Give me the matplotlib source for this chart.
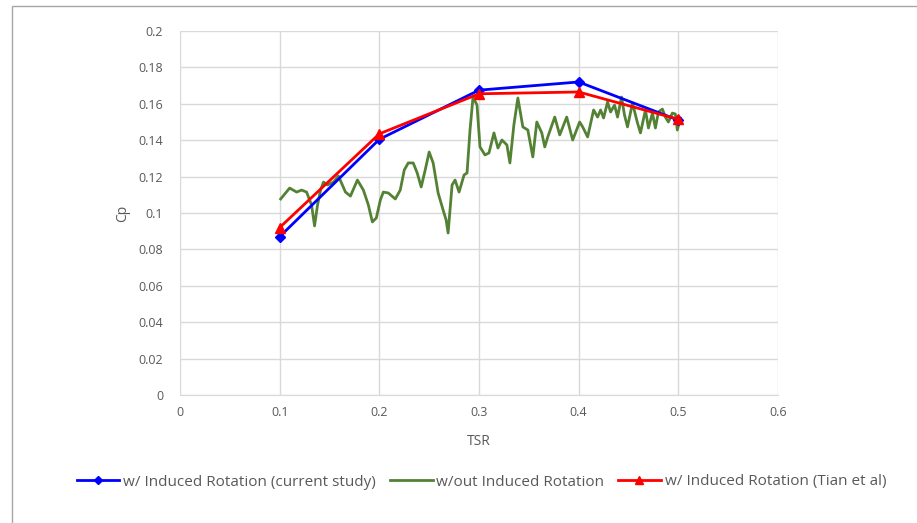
import matplotlib.pyplot as plt
from matplotlib.patches import Rectangle

# TSR points for the two "with induced rotation" series
tsr = [0.1, 0.2, 0.3, 0.4, 0.5]
cp_current = [0.087, 0.1405, 0.1675, 0.172, 0.151]
cp_tian = [0.092, 0.1435, 0.1655, 0.1665, 0.1515]

# w/out induced rotation
tsr_wo = [0.101, 0.110, 0.117, 0.122, 0.127, 0.132, 0.135, 0.138, 0.141, 0.144,
          0.148, 0.154, 0.159, 0.166, 0.171, 0.178, 0.184, 0.189, 0.193, 0.197,
          0.201, 0.204, 0.209, 0.216, 0.221, 0.225, 0.229, 0.234, 0.238, 0.242,
          0.246, 0.250, 0.254, 0.259, 0.264, 0.267, 0.269, 0.273, 0.276, 0.280,
          0.285, 0.288, 0.291, 0.294, 0.298, 0.301, 0.306, 0.310, 0.315, 0.319,
          0.323, 0.328, 0.331, 0.335, 0.339, 0.344, 0.349, 0.354, 0.358, 0.363,
          0.366, 0.369, 0.376, 0.381, 0.388, 0.394, 0.401, 0.404, 0.409, 0.415,
          0.419, 0.422, 0.425, 0.429, 0.432, 0.436, 0.439, 0.443, 0.446, 0.449,
          0.454, 0.459, 0.462, 0.467, 0.470, 0.474, 0.477, 0.480, 0.484, 0.487,
          0.490, 0.494, 0.497, 0.499, 0.502]
cp_wo = [0.1077, 0.1137, 0.1115, 0.1126, 0.1115, 0.1044, 0.0929, 0.1044, 0.1126, 0.1170,
         0.1154, 0.1170, 0.1203, 0.1115, 0.1093, 0.1181, 0.1126, 0.1044, 0.0951, 0.0973,
         0.1071, 0.1115, 0.1110, 0.1077, 0.1126, 0.1236, 0.1275, 0.1275, 0.1220, 0.1143,
         0.1236, 0.1335, 0.1275, 0.1110, 0.1016, 0.0962, 0.0890, 0.1154, 0.1181, 0.1115,
         0.1209, 0.1220, 0.1456, 0.1637, 0.1593, 0.1363, 0.1319, 0.1330, 0.1440, 0.1357,
         0.1401, 0.1374, 0.1275, 0.1484, 0.1632, 0.1473, 0.1456, 0.1308, 0.1500, 0.1440,
         0.1363, 0.1418, 0.1527, 0.1429, 0.1527, 0.1401, 0.1500, 0.1473, 0.1418, 0.1566,
         0.1527, 0.1566, 0.1522, 0.1610, 0.1555, 0.1593, 0.1527, 0.1637, 0.1538, 0.1473,
         0.1604, 0.1495, 0.1440, 0.1566, 0.1467, 0.1549, 0.1467, 0.1555, 0.1571, 0.1527,
         0.1500, 0.1549, 0.1544, 0.1456, 0.1522]

x_ticks = [0, 0.1, 0.2, 0.3, 0.4, 0.5, 0.6]
x_labels = ["0", "0.1", "0.2", "0.3", "0.4", "0.5", "0.6"]
y_ticks = [0, 0.02, 0.04, 0.06, 0.08, 0.1, 0.12, 0.14, 0.16, 0.18, 0.2]
y_labels = ["0", "0.02", "0.04", "0.06", "0.08", "0.1", "0.12", "0.14", "0.16", "0.18", "0.2"]

plt.rcParams['font.family'] = ['Open Sans', 'DejaVu Sans']
txt = '#595959'

fig = plt.figure(figsize=(9.17, 5.23), dpi=100)
# chart frame: only left and top edges fall inside the picture
fig.patches.append(Rectangle((12 / 917, -0.2), 1.2, 1.2 - 6 / 523,
                             transform=fig.transFigure, fill=False,
                             edgecolor='#a6a6a6', linewidth=1.0))
ax = fig.add_axes([180 / 917, 1 - 395 / 523, 598 / 917, 364 / 523])

ax.plot(tsr, cp_current, color='#0000ff', lw=2, marker='D', ms=5.5,
        label='w/ Induced Rotation (current study)', zorder=3)
ax.plot(tsr_wo, cp_wo, color='#548235', lw=2, solid_joinstyle='round',
        label='w/out Induced Rotation', zorder=2)
ax.plot(tsr, cp_tian, color='#ff0000', lw=2, marker='^', ms=7.5,
        label='w/ Induced Rotation (Tian et al)', zorder=4)

ax.set_xlim(0, 0.6)
ax.set_ylim(0, 0.2)
ax.set_xticks(x_ticks)
ax.set_xticklabels(x_labels)
ax.set_yticks(y_ticks)
ax.set_yticklabels(y_labels)
ax.grid(True, color='#d9d9d9', lw=1)
ax.set_axisbelow(True)
for s in ['top', 'right', 'left']:
    ax.spines[s].set_visible(False)
ax.spines['bottom'].set_color('#d9d9d9')
ax.tick_params(length=0, colors=txt, labelsize=9, pad=12)
ax.tick_params(axis='x', pad=8)

ax.set_xlabel('TSR', color=txt, fontsize=10, labelpad=11)
ax.set_ylabel('Cp', color=txt, fontsize=10, labelpad=6)

fig.legend(loc='center', bbox_to_anchor=(0.525, 1 - 482 / 523), ncol=3, frameon=False,
           fontsize=11, handlelength=2.8, handletextpad=0.25, columnspacing=0.9,
           markerscale=0.8, labelcolor=txt)

fig.savefig('out.png', dpi=100)
